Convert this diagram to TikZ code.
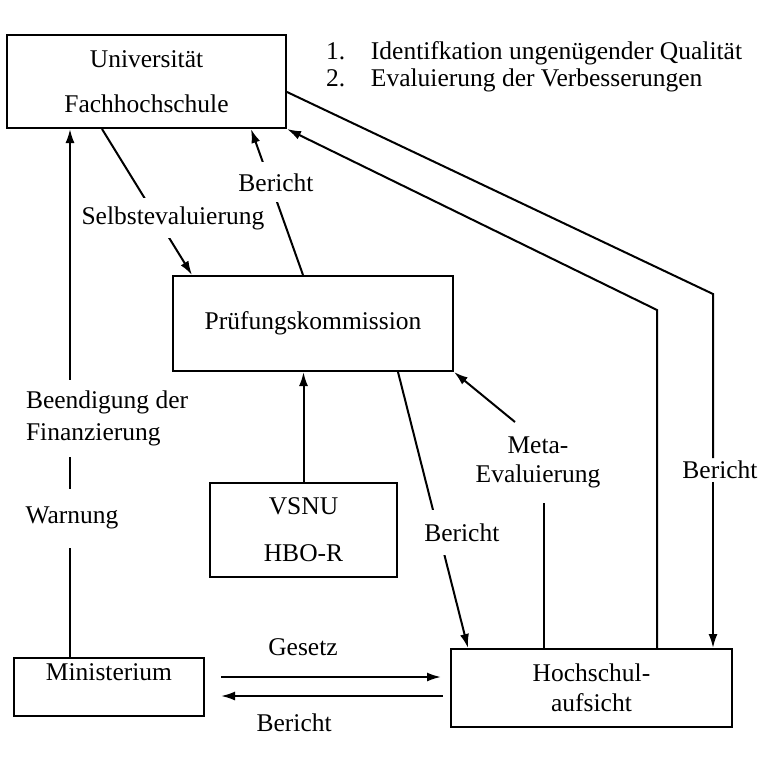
\documentclass[tikz,border=0pt]{standalone}
\usepackage{fontspec}
\setmainfont{Liberation Serif}
\usetikzlibrary{arrows.meta}

\begin{document}
\begin{tikzpicture}[x=1pt, y=-1pt,
    font=\fontsize{25.5}{29}\selectfont,
    line width=2pt,
    box/.style={draw, rectangle, align=center, inner sep=0pt},
    lbl/.style={align=center, inner sep=2pt},
    >={Latex[length=14pt,width=9pt]}
    ]
    \useasboundingbox (0,0) rectangle (767,760);
    % Kaesten
    \node[box, minimum width=279pt, minimum height=93pt, font=\fontsize{25.5}{45}\selectfont] (univ) at (146.5,81.5) {Universität\\Fachhochschule};
    \node[box, minimum width=280pt, minimum height=95pt] (pk) at (313,323.5) {Prüfungskommission};
    \node[box, minimum width=187pt, minimum height=94pt, font=\fontsize{25.5}{47}\selectfont] (vsnu) at (303.5,530) {VSNU\\HBO-R};
    \node[box, minimum width=190pt, minimum height=58pt] (minist) at (109,687) {Ministerium\\\mbox{}};
    \node[box, minimum width=281pt, minimum height=78pt, font=\fontsize{25.5}{30}\selectfont] (hs) at (591.5,688) {Hochschul-\\aufsicht};
    \node[inner sep=0pt, align=left, anchor=north west, font=\fontsize{25.5}{27}\selectfont] (leg) at (325,41)
      {\makebox[45pt][l]{1.}Identifkation ungenügender Qualität\\\makebox[45pt][l]{2.}Evaluierung der Verbesserungen};

    % Beschriftungen
    \node[lbl, minimum height=75pt, align=left, inner xsep=0pt, anchor=west, font=\fontsize{25.5}{32}\selectfont] (stop) at (25,418) {Beendigung der\\Finanzierung};
    \node[lbl, minimum height=57pt] (warn) at (72,518) {Warnung};
    \node[lbl, minimum height=79pt] (meta) at (538,462.5) {Meta-\\Evaluierung};
    \node[lbl] (berR) at (720,470) {Bericht};

    % Ministerium -> Universitaet
    \coordinate (lx) at ([xshift=-39pt]minist.north);
    \draw (lx) -- (lx |- warn.south);
    \draw (lx |- warn.north) -- (lx |- stop.south);
    \draw[->] (lx |- stop.north) -- (lx |- univ.south);

    \draw[->] ([xshift=-44.5pt]univ.south) -- node[lbl, fill=white, pos=0.61, xshift=16pt, minimum height=40pt] {Selbstevaluierung} ([xshift=-121pt]pk.north);
    \draw[->] ([xshift=-10pt]pk.north) -- node[lbl, fill=white, pos=0.635, xshift=6pt, minimum height=40pt] {Bericht} ([xshift=104.5pt]univ.south);
    \draw[->] (vsnu.north) -- (vsnu.north |- pk.south);
    \draw[->] ([xshift=85pt]pk.south) -- node[lbl, fill=white, pos=0.583, xshift=23pt, minimum height=45pt] {Bericht} ([xshift=-123.5pt]hs.north);

    % Hochschulaufsicht
    \coordinate (mx) at ([xshift=-47.5pt]hs.north);
    \draw (mx) -- (mx |- meta.south);
    \draw[->] ([xshift=-23pt]meta.north) -- (pk.south east);

    \coordinate (kR) at (713,294);
    \coordinate (kL) at (657,310);
    \draw ([yshift=-10.5pt]univ.east) -- (kR) -- (kR |- berR.north);
    \draw[->] (kR |- berR.south) -- (kR |- hs.north);
    \draw[->] (kL |- hs.north) -- (kL) -- (univ.south east);

    \coordinate (g1) at ([yshift=10pt]minist.east);
    \coordinate (b1) at ([yshift=-9pt]minist.east);
    \draw[->, shorten <=16pt, shorten >=9pt] (g1) -- (g1 -| hs.west) node[pos=0.4, above=17pt] {Gesetz};
    \draw[<-, shorten <=16pt, shorten >=7pt] (b1) -- (b1 -| hs.west) node[pos=0.364, below=13pt] {Bericht};
\end{tikzpicture}
\end{document}
